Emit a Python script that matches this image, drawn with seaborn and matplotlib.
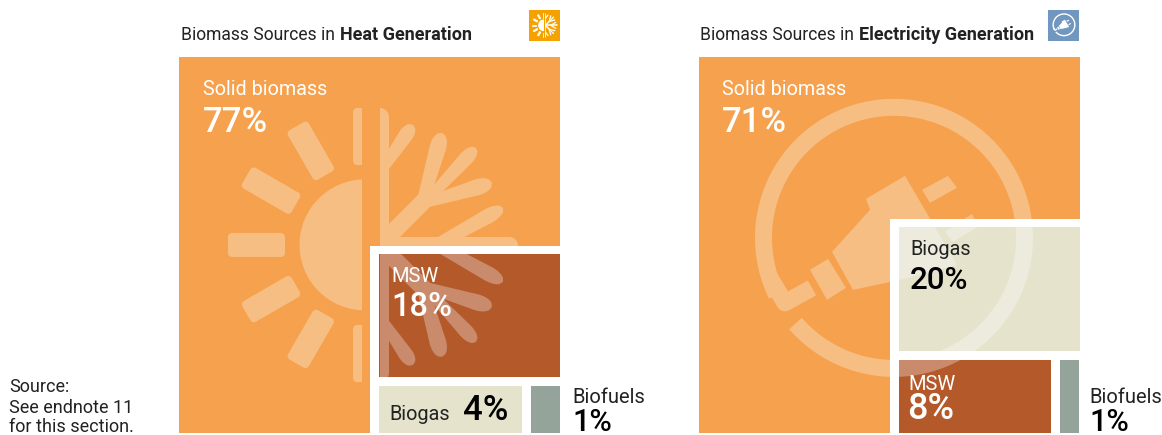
import numpy as np
import pandas as pd
import seaborn as sns
import matplotlib.pyplot as plt
from matplotlib.patches import Polygon, Rectangle, Wedge

sns.set_theme(style='white')
plt.rcParams['font.family'] = ['Roboto', 'DejaVu Sans']

# values
categories = ['Solid biomass', 'MSW', 'Biogas', 'Biofuels']
heat_values = [77, 18, 4, 1]
elec_values = [71, 8, 20, 1]

# colours
ORANGE = '#F6A14D'
ORANGE_TINT = '#F7BE84'
RUST = '#B4592A'
RUST_TINT = '#C98B6C'
SAND = '#E6E3CC'
SAND_TINT = '#ECEBDD'
SAGE = '#94A49A'
DARK = '#222222'
PX = 0.72  # points per pixel at dpi 100

# cell boxes in pixels: x0, y0, x1, y1
heat_boxes = {'Solid biomass': (179, 57, 560, 433), 'gap': (370, 246, 560, 433),
              'MSW': (379, 254, 560, 377), 'Biogas': (379, 386, 522, 433),
              'Biofuels': (531, 386, 560, 433)}
elec_boxes = {'Solid biomass': (699, 57, 1080, 433), 'gap': (890, 219, 1080, 433),
              'MSW': (899, 360, 1051, 433), 'Biogas': (899, 227, 1080, 351),
              'Biofuels': (1060, 360, 1079, 433)}


def clip_rect(ax, box):
    return Rectangle((box[0], box[1]), box[2] - box[0], box[3] - box[1], transform=ax.transData)


def meet(a, b):
    return (max(a[0], b[0]), max(a[1], b[1]), min(a[2], b[2]), min(a[3], b[3]))


def stroke(ax, xs, ys, width, color, box, z, cap='round'):
    line, = ax.plot(xs, ys, color=color, lw=width * PX, solid_capstyle=cap,
                    solid_joinstyle='round', zorder=z)
    line.set_clip_path(clip_rect(ax, box))


def fill(ax, xy, color, box, z, edge=0):
    poly = Polygon(xy, closed=True, facecolor=color, edgecolor=color, lw=edge * PX,
                   joinstyle='round', zorder=z)
    ax.add_patch(poly)
    poly.set_clip_path(clip_rect(ax, box))


def petal(ax, a, b, hb, hm, color, box, z):
    # leaf shape of the flake: narrow at the base, full near the tip
    a, b = np.array(a, float), np.array(b, float)
    d = b - a
    n = np.array([-d[1], d[0]]) / np.hypot(*d)
    u = np.linspace(0, 1, 40)
    h = hb + (hm - hb) * u
    tip = u > 0.75
    h[tip] *= np.sqrt(np.clip(1 - ((u[tip] - 0.75) / 0.25) ** 2, 0, 1))
    pts = a + np.outer(u, d)
    xy = np.vstack([pts + np.outer(h, n), (pts - np.outer(h, n))[::-1]])
    fill(ax, xy, color, box, z)


def draw_sun_flake(ax, cx, cy, s, color, box, z, sun=True):
    # sun on the left of the split, flake on the right
    if sun:
        half = meet(box, (cx - 200 * s, cy - 200 * s, cx - 3 * s, cy + 200 * s))
        disc = Wedge((cx, cy), 65.5 * s, 90, 270, color=color, lw=0, zorder=z)
        ax.add_patch(disc)
        disc.set_clip_path(clip_rect(ax, half))
        for ang in np.arange(90, 271, 30):
            t = np.deg2rad(ang)
            u = np.array([np.cos(t), -np.sin(t)])
            v = np.array([-u[1], u[0]])
            c = np.array([cx, cy])
            xy = [c + u * 84 * s + v * 8 * s, c + u * 133 * s + v * 8 * s,
                  c + u * 133 * s - v * 8 * s, c + u * 84 * s - v * 8 * s]
            fill(ax, xy, color, half, z, edge=8 * s)
    fx = cx + 15 * s
    side = meet(box, (fx, cy - 200 * s, fx + 200 * s, cy + 200 * s))
    stroke(ax, [fx, fx], [cy - 128 * s, cy + 128 * s], 18 * s, color, side, z)
    stroke(ax, [fx, fx + 129 * s], [cy, cy], 17 * s, color, side, z)
    branches = [((2, -75), (33, -120), 5, 8), ((44, -48), (62, -112), 6, 9),
                ((52, -50), (96, -97), 5, 8), ((45, -42), (112, -62), 5, 9),
                ((60, -2), (123, -37), 6, 8)]
    for sign in (1, -1):
        stroke(ax, [fx, fx + 50 * s], [cy, cy + sign * 50 * s], 17 * s, color, side, z)
        for a, b, hb, hm in branches:
            petal(ax, (fx + a[0] * s, cy + sign * a[1] * s), (fx + b[0] * s, cy + sign * b[1] * s),
                  hb * s, hm * s, color, side, z)


def draw_plug(ax, cx, cy, s, color, box, z):
    # ring, open at lower left where the cord comes in
    t = np.deg2rad(np.linspace(221, 221 + 345, 200))
    stroke(ax, cx + 130.5 * s * np.cos(t), cy - 130.5 * s * np.sin(t), 17 * s, color, box, z, cap='butt')
    stroke(ax, [cx - 124 * s, cx - 109 * s, cx - 82 * s], [cy + 40 * s, cy + 65 * s, cy + 50 * s],
           17 * s, color, box, z, cap='butt')
    shapes = [[(905, 176), (866, 199), (870, 210), (832, 252), (853, 290), (900, 280), (957, 265)],
              [(922, 190), (948, 176), (957, 188), (930, 203)],
              [(945, 232), (972, 214), (978, 227), (953, 242)],
              [(810, 270), (828, 259), (846, 288), (827, 300)]]
    for pts in shapes:
        fill(ax, [(cx + (x - 894) * s, cy + (y - 238) * s) for x, y in pts], color, box, z)


def draw_cell(ax, box, color, z):
    ax.bar(box[0], box[3] - box[1], width=box[2] - box[0], bottom=box[1],
           align='edge', color=color, linewidth=0, zorder=z)


def label(ax, x, y, text, color, size, weight='normal', **kw):
    ax.text(x, y, text, color=color, fontsize=size, fontweight=weight, va='baseline', zorder=20, **kw)


# 4.35 * 100 rounds down to 434 pixels, so ask for a hair more
fig = plt.figure(figsize=(11.621, 4.351), dpi=100)
ax = fig.add_axes([0, 0, 1, 1])
ax.set_xlim(0, 1162.1)
ax.set_ylim(435.1, 0.1)
ax.axis('off')

heat = pd.Series(heat_values, index=categories)
elec = pd.Series(elec_values, index=categories)

# heat panel
draw_cell(ax, heat_boxes['Solid biomass'], ORANGE, 1)
draw_sun_flake(ax, 365, 245, 1, ORANGE_TINT, heat_boxes['Solid biomass'], 2)
draw_cell(ax, heat_boxes['gap'], 'white', 3)
draw_cell(ax, heat_boxes['MSW'], RUST, 4)
draw_sun_flake(ax, 365, 245, 1, RUST_TINT, heat_boxes['MSW'], 5, sun=False)
draw_cell(ax, heat_boxes['Biogas'], SAND, 4)
draw_cell(ax, heat_boxes['Biofuels'], SAGE, 4)

# electricity panel
draw_cell(ax, elec_boxes['Solid biomass'], ORANGE, 1)
draw_plug(ax, 894, 238, 1, ORANGE_TINT, elec_boxes['Solid biomass'], 2)
draw_cell(ax, elec_boxes['gap'], 'white', 3)
draw_cell(ax, elec_boxes['MSW'], RUST, 4)
draw_plug(ax, 894, 238, 1, RUST_TINT, elec_boxes['MSW'], 5)
draw_cell(ax, elec_boxes['Biogas'], SAND, 4)
draw_plug(ax, 894, 238, 1, SAND_TINT, elec_boxes['Biogas'], 5)
draw_cell(ax, elec_boxes['Biofuels'], SAGE, 4)

# small icons top right
icon1 = (529, 10, 560, 41)
draw_cell(ax, icon1, '#F5A200', 4)
draw_sun_flake(ax, 544, 25.5, 0.09, 'white', icon1, 5)
icon2 = (1048, 10, 1079, 41)
draw_cell(ax, icon2, '#6F97C0', 4)
draw_plug(ax, 1064, 25, 0.083, 'white', icon2, 5)

# titles
label(ax, 181, 40, 'Biomass Sources in', DARK, 12.65)
label(ax, 340, 40, 'Heat Generation', DARK, 13, weight='bold')
label(ax, 700, 40, 'Biomass Sources in', DARK, 12.65)
label(ax, 859, 40, 'Electricity Generation', DARK, 13, weight='bold')

# value labels
label(ax, 203, 95, categories[0], 'white', 14.2)
label(ax, 203, 132, f'{heat.iloc[0]}%', 'white', 25, weight='medium')
label(ax, 391, 282, categories[1], 'white', 14.5)
label(ax, 391, 316, f'{heat.iloc[1]}%', 'white', 23.5, weight='medium')
label(ax, 389, 420, categories[2], DARK, 14.3)
label(ax, 463, 420, f'{heat.iloc[2]}%', 'black', 25, weight='medium')
label(ax, 572, 403, categories[3], DARK, 14.5)
label(ax, 572, 431, f'{heat.iloc[3]}%', 'black', 22, weight='medium')

label(ax, 722, 95, categories[0], 'white', 14.2)
label(ax, 722, 132, f'{elec.iloc[0]}%', 'white', 25, weight='medium')
label(ax, 910, 255, categories[2], DARK, 14.3)
label(ax, 910, 289, f'{elec.iloc[2]}%', 'black', 22.5, weight='medium')
label(ax, 908, 390, categories[1], 'white', 14.5)
label(ax, 907, 419, f'{elec.iloc[1]}%', 'white', 26, weight='medium')
label(ax, 1089, 403, categories[3], DARK, 14.5)
label(ax, 1089, 431, f'{elec.iloc[3]}%', 'black', 22, weight='medium')

# source note
for y, line in zip([392, 413, 432], ['Source:', 'See endnote 11', 'for this section.']):
    label(ax, 9, y, line, DARK, 13)

fig.savefig('out.png', dpi=100)
